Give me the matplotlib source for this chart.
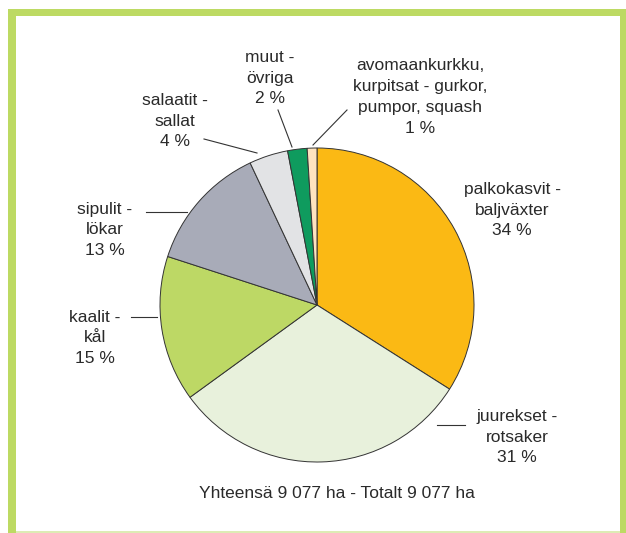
import matplotlib
matplotlib.use("Agg")
import matplotlib.pyplot as plt
from matplotlib.patches import Rectangle
from matplotlib import font_manager

names = {f.name for f in font_manager.fontManager.ttflist}
fam = "Liberation Sans Narrow" if "Liberation Sans Narrow" in names else "Liberation Sans"
plt.rcParams['font.family'] = [fam, 'DejaVu Sans']

labels = ["palkokasvit -\nbaljväxter\n34 %",
          "juurekset -\nrotsaker\n31 %",
          "kaalit -\nkål\n15 %",
          "sipulit -\nlökar\n13 %",
          "salaatit -\nsallat\n4 %",
          "muut -\növriga\n2 %",
          "avomaankurkku,\nkurpitsat - gurkor,\npumpor, squash\n1 %"]
values = [34, 31, 15, 13, 4, 2, 1]
colors = ["#FBB914", "#E8F1DC", "#BDD865", "#A8ABB8", "#E2E3E5", "#0F9B5E", "#FEE3BF"]
total_text = "Yhteensä 9 077 ha - Totalt 9 077 ha"

W, H = 626, 533
fig = plt.figure(figsize=(W / 100, H / 100), dpi=100)
ax = fig.add_axes([0, 0, 1, 1])

def Y(y):
    return H - y

# frame
green = "#BDDA63"
ax.add_patch(Rectangle((8, Y(533)), 8, 533 - 9, color=green, lw=0))
ax.add_patch(Rectangle((8, Y(16)), W - 8, 7, color=green, lw=0))
ax.add_patch(Rectangle((620, Y(533)), 6, 533 - 9, color=green, lw=0))
ax.add_patch(Rectangle((16, Y(533)), 604, 2, color="#DDEBB5", lw=0))

cx, cy, r = 317, 305, 157
ax.pie(values, colors=colors, startangle=90, counterclock=False,
       center=(cx, Y(cy)), radius=r, frame=True,
       wedgeprops=dict(edgecolor="#333333", linewidth=0.7))
ax.set_xlim(0, W)
ax.set_ylim(0, H)
ax.set_aspect('equal')
ax.axis('off')

fs = 12.5
tc = "#2A2A2A"
label_pos = [(512, 210), (517, 437), (95, 338), (105, 230), (175, 121), (270, 78), (420, 97)]
for lab, (x, y) in zip(labels, label_pos):
    ax.text(x, Y(y), lab, ha='center', va='center', fontsize=fs, color=tc,
            linespacing=1.48)

lines = [((437, 425), (465, 425)),
         ((131, 317), (157, 317)),
         ((146, 212), (187, 212)),
         ((204, 139), (257, 153)),
         ((278, 110), (292, 147)),
         ((347, 110), (313, 145))]
for (x0, y0), (x1, y1) in lines:
    ax.plot([x0, x1], [Y(y0), Y(y1)], color="#333333", lw=0.8)

ax.text(337, Y(493), total_text, ha='center', va='center', fontsize=fs, color=tc)

fig.savefig("out.png", dpi=100)
